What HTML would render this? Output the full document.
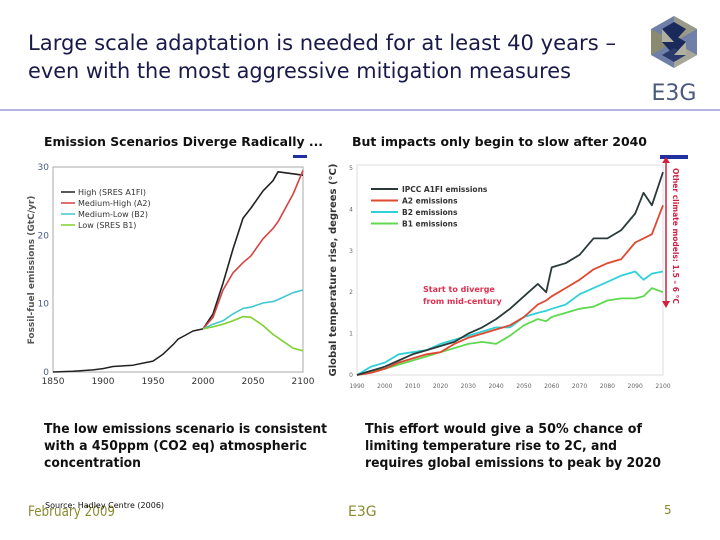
<!DOCTYPE html>
<html><head><meta charset="utf-8"><style>
html,body{margin:0;padding:0;background:#fff;}
svg{display:block;}
text{font-family:"DejaVu Sans","Liberation Sans",sans-serif;}
</style></head><body>
<svg id="slide" width="720" height="540" viewBox="0 0 720 540" xmlns="http://www.w3.org/2000/svg">
<text x="28" y="50" font-size="21" fill="#1a1a4a" textLength="588" lengthAdjust="spacingAndGlyphs">Large scale adaptation is needed for at least 40 years –</text>
<text x="28" y="78" font-size="21" fill="#1a1a4a" textLength="543" lengthAdjust="spacingAndGlyphs">even with the most aggressive mitigation measures</text>
<g>
<polygon points="674,16 697,29 697,55 674,68 651,55 651,29" fill="#6f7fa8"/>
<polygon points="674,16 697,29 674,42" fill="#9a9a88"/>
<polygon points="651,29 674,42 651,55" fill="#8a8a70"/>
<polygon points="674,68 697,55 674,42" fill="#a8a898"/>
<polygon points="662,29 674,22 686,29 674,42" fill="#1a2a5a"/>
<polygon points="662,42 674,35 686,42 674,55" fill="#1a2a5a"/>
<polygon points="662,55 674,48 686,55 674,62" fill="#2a3a6a"/>
<polygon points="662,29 674,42 662,42" fill="#b0b0a0"/>
<polygon points="686,42 674,55 686,55" fill="#b0b0a0"/>
<text x="674" y="100" font-size="22" font-family="Liberation Serif,serif" fill="#4a5a7a" text-anchor="middle">E3G</text>
</g>
<rect x="0" y="109" width="720" height="2" fill="#b4b4dc"/>
<text x="44" y="146" font-size="12" font-weight="bold" fill="#111" textLength="279" lengthAdjust="spacingAndGlyphs">Emission Scenarios Diverge Radically ...</text>
<text x="352" y="146" font-size="12" font-weight="bold" fill="#111" textLength="295" lengthAdjust="spacingAndGlyphs">But impacts only begin to slow after 2040</text>

<g id="leftChart">
<rect x="53" y="167" width="250" height="205" fill="#fff" stroke="#aaa" stroke-width="1"/>
<rect x="293" y="155" width="14" height="3" fill="#2030a0"/>
<text transform="translate(34,270) rotate(-90)" font-size="9" font-weight="bold" fill="#555" text-anchor="middle">Fossil-fuel emissions  (GtC/yr)</text>
</g>
<g id="rightChart">
<rect x="357" y="165" width="306" height="210" fill="#fff" stroke="#ddd" stroke-width="1"/>
<rect x="660" y="155" width="28" height="4" fill="#2030a0"/>
<text transform="translate(336,270) rotate(-90)" font-size="10" font-weight="bold" fill="#333" text-anchor="middle">Global temperature rise, degrees (°C)</text>
<text x="423" y="292" font-size="8" font-weight="bold" fill="#e03050">Start to diverge</text>
<text x="423" y="304" font-size="8" font-weight="bold" fill="#e03050">from mid-century</text>
<line x1="666" y1="158" x2="666" y2="305" stroke="#d02040" stroke-width="1.5"/>
<polygon points="662,163 670,163 666,157" fill="#d02040"/>
<polygon points="662,301 670,301 666,308" fill="#d02040"/>
<text transform="translate(673,168) rotate(90)" font-size="7.5" font-weight="bold" fill="#d02040">Other climate models: 1.5 – 6 °C</text>
</g>

<text x="44" y="433" font-size="13" font-weight="bold" fill="#111" textLength="283" lengthAdjust="spacingAndGlyphs">The low emissions scenario is consistent</text>
<text x="44" y="450" font-size="13" font-weight="bold" fill="#111" textLength="263" lengthAdjust="spacingAndGlyphs">with a 450ppm (CO2 eq) atmospheric</text>
<text x="44" y="467" font-size="13" font-weight="bold" fill="#111" textLength="97" lengthAdjust="spacingAndGlyphs">concentration</text>
<text x="365" y="433" font-size="13" font-weight="bold" fill="#111" textLength="277" lengthAdjust="spacingAndGlyphs">This effort would give a 50% chance of</text>
<text x="365" y="450" font-size="13" font-weight="bold" fill="#111" textLength="252" lengthAdjust="spacingAndGlyphs">limiting temperature rise to 2C, and</text>
<text x="365" y="467" font-size="13" font-weight="bold" fill="#111" textLength="296" lengthAdjust="spacingAndGlyphs">requires global emissions to peak by 2020</text>
<text x="28" y="516" font-size="14" fill="#8a8a30" textLength="87" lengthAdjust="spacingAndGlyphs">February 2009</text>
<text x="45" y="508" font-size="8" fill="#111">Source: Hadley Centre (2006)</text>
<text x="348" y="516" font-size="14" fill="#8a8a30">E3G</text>
<text x="664" y="514" font-size="12" fill="#8a8a30">5</text>
</svg>
<script>
// Emissions chart data
const emYears = [2000,2010,2020,2030,2040,2048,2060,2070,2075,2090,2100];
const histYears = [1850,1870,1890,1900,1910,1920,1930,1940,1950,1960,1970,1975,1980,1990,2000];
const histVals = [0,0.1,0.3,0.5,0.8,0.9,1.0,1.3,1.6,2.6,4.0,4.8,5.2,6.0,6.3];
const emHigh = [6.3,8.5,13,18,22.5,24,26.5,28,29.3,29,28.8];
const emMedHigh = [6.3,8,12,14.5,16,17,19.5,21,22,26,29.5];
const emMedLow = [6.3,7,7.5,8.5,9.3,9.5,10.1,10.3,10.6,11.6,12];
const emLow = [6.3,6.6,7,7.5,8.1,8,6.8,5.5,5.0,3.5,3.1];
const emXTicks = [1850,1900,1950,2000,2050,2100];
const emYTicks = [0,10,20,30];
const emLegend = ["High (SRES A1FI)","Medium-High (A2)","Medium-Low (B2)","Low (SRES B1)"];
// Temperature chart data
const tYears = [1990,1995,2000,2005,2010,2015,2020,2025,2030,2035,2040,2045,2050,2055,2058,2060,2065,2070,2075,2080,2085,2090,2093,2096,2100];
const tA1FI = [0,0.1,0.2,0.35,0.5,0.6,0.7,0.8,1.0,1.15,1.35,1.6,1.9,2.2,2.0,2.6,2.7,2.9,3.3,3.3,3.5,3.9,4.4,4.1,4.9];
const tA2 = [0,0.05,0.15,0.3,0.4,0.5,0.55,0.75,0.9,1.0,1.1,1.2,1.4,1.7,1.8,1.9,2.1,2.3,2.55,2.7,2.8,3.2,3.3,3.4,4.1];
const tB2 = [0,0.2,0.3,0.5,0.55,0.6,0.75,0.85,0.95,1.05,1.15,1.15,1.4,1.5,1.55,1.6,1.7,1.95,2.1,2.25,2.4,2.5,2.3,2.45,2.5];
const tB1 = [0,0.1,0.15,0.25,0.35,0.45,0.55,0.65,0.75,0.8,0.75,0.95,1.2,1.35,1.3,1.4,1.5,1.6,1.65,1.8,1.85,1.85,1.9,2.1,2.0];
const tXTicks = [1990,2000,2010,2020,2030,2040,2050,2060,2070,2080,2090,2100];
const tYTicks = [0,1,2,3,4,5];
const tLegend = ["IPCC A1FI emissions","A2 emissions","B2 emissions","B1 emissions"];

const NS="http://www.w3.org/2000/svg";
function mk(tag,attrs,parent){const e=document.createElementNS(NS,tag);for(const k in attrs)e.setAttribute(k,attrs[k]);parent.appendChild(e);return e;}
function poly(xs,ys,sx,sy,color,w,parent,name){
  const d=xs.map((x,i)=>(i?"L":"M")+sx(x).toFixed(1)+","+sy(ys[i]).toFixed(1)).join("");
  const p=mk("path",{d:d,fill:"none",stroke:color,"stroke-width":w,"stroke-linejoin":"round"},parent);
  
  
  return p;
}
// left
const L=document.getElementById("leftChart");
const lx=y=>53+(y-1850)/250*250, ly=v=>372-v/30*205;
emXTicks.forEach(t=>{const e=mk("text",{x:lx(t),y:384,"font-size":9,fill:"#333","text-anchor":"middle"},L);e.textContent=t;

});
emYTicks.forEach(t=>{const e=mk("text",{x:49,y:ly(t)+3,"font-size":9,fill:"#4a5a8a","text-anchor":"end"},L);e.textContent=t;

});
poly(histYears,histVals,lx,ly,"#222",1.5,L,"historical-emissions-line");
const emCols=["#222","#d84040","#40c8d0","#80d030"];
[emHigh,emMedHigh,emMedLow,emLow].forEach((s,i)=>poly(emYears,s,lx,ly,emCols[i],1.6,L,"emissions-series-"+i));
emLegend.forEach((n,i)=>{const y=192+i*11;
const ln=mk("line",{x1:61,x2:75,y1:y,y2:y,stroke:emCols[i],"stroke-width":1.5},L);


const t=mk("text",{x:78,y:y+3,"font-size":8,fill:"#333"},L);t.textContent=n;

});
// right
const R=document.getElementById("rightChart");
const rx=y=>357+(y-1990)/110*306, ry=v=>375-v*41.4;
tXTicks.forEach(t=>{const e=mk("text",{x:rx(t),y:388,"font-size":6,fill:"#666","text-anchor":"middle"},R);e.textContent=t;

});
tYTicks.forEach(t=>{const e=mk("text",{x:353,y:ry(t)+2,"font-size":6,fill:"#666","text-anchor":"end"},R);e.textContent=t;

});
const tCols=["#2a3a3a","#e04830","#30d0d8","#60d850"];
[tB1,tB2,tA2,tA1FI].forEach((s,i)=>poly(tYears,s,rx,ry,tCols[3-i],1.8,R,"temperature-series-"+(3-i)));
tLegend.forEach((n,i)=>{const y=189+i*11.5;
const ln=mk("line",{x1:371,x2:398,y1:y,y2:y,stroke:tCols[i],"stroke-width":2},R);


const t=mk("text",{x:402,y:y+3,"font-size":7.5,"font-weight":"bold",fill:"#333"},R);t.textContent=n;

});
</script>
</body></html>
